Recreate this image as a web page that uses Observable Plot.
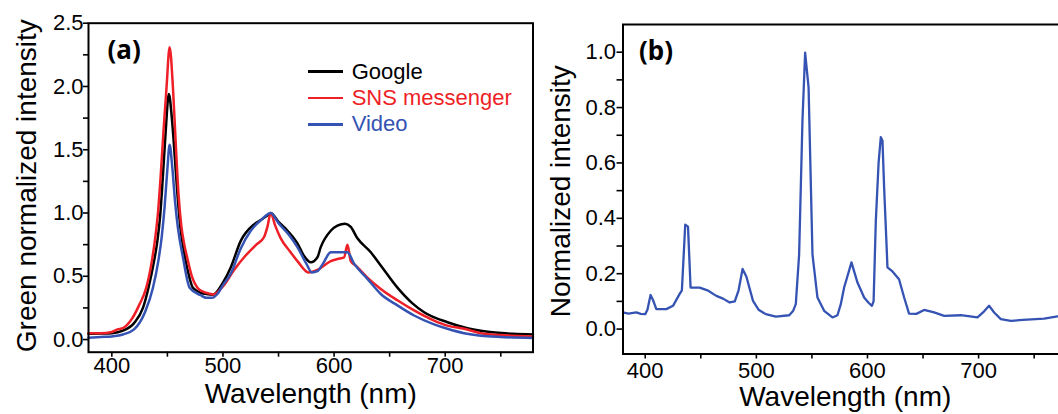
<!DOCTYPE html>
<html>
<head>
<meta charset="utf-8">
<script src="https://cdn.jsdelivr.net/npm/d3@7"></script>
<script src="https://cdn.jsdelivr.net/npm/@observablehq/plot@0.6"></script>
<style>
html, body { margin: 0; padding: 0; overflow: hidden; background: #fff; width: 1058px; height: 414px; }
#wrap { position: relative; width: 1058px; height: 414px; overflow: hidden; font-family: "Liberation Sans", Arial, sans-serif; }
#wrap > svg { position: absolute; top: 0; }
#legend { position: absolute; left: 308px; top: 58.6px; font-size: 22px; line-height: 26.3px; }
#legend .row { display: flex; align-items: center; height: 26.3px; white-space: nowrap; }
#legend .sw { display: inline-block; width: 35px; height: 2.8px; margin-right: 8.7px; }
</style>
</head>
<body>
<div id="wrap"></div>
<script>
// ---------- Panel (a) data ----------
const googleWl = [379, 390, 400, 410, 420, 428, 433, 438, 441, 443.5, 446, 448.5, 451.3, 454, 456.6, 459, 461.5, 464, 467, 473, 480, 485, 491, 500, 507, 516, 528, 535, 540, 543, 550, 556, 567, 573, 579, 585, 588, 597, 603, 610, 615, 621, 633, 642, 657, 670, 681, 702, 720, 732, 745, 761, 779];
const googleVal = [0.045, 0.047, 0.05, 0.07, 0.13, 0.25, 0.41, 0.62, 0.78, 0.98, 1.3, 1.65, 1.94, 1.75, 1.45, 1.15, 0.9, 0.74, 0.6, 0.41, 0.37, 0.36, 0.355, 0.45, 0.57, 0.78, 0.91, 0.95, 0.98, 1.0, 0.93, 0.88, 0.76, 0.66, 0.61, 0.65, 0.73, 0.86, 0.90, 0.915, 0.89, 0.80, 0.69, 0.585, 0.41, 0.29, 0.216, 0.137, 0.09, 0.07, 0.055, 0.045, 0.04];

const snsWl = [379, 390, 400, 405, 410, 417, 425, 431, 436, 439, 441.5, 444, 446.5, 449.2, 452, 455, 457.5, 460, 462.5, 465, 468, 472, 477, 483, 487, 491, 500, 510, 520, 530, 537, 540, 543, 547, 552, 560, 567, 577, 585, 597, 605, 609, 612, 615, 620, 630, 642, 657, 672, 690, 702, 717, 732, 750, 779];
const snsVal = [0.05, 0.05, 0.06, 0.08, 0.09, 0.15, 0.28, 0.41, 0.62, 0.80, 1.0, 1.3, 1.65, 1.99, 2.31, 1.99, 1.55, 1.15, 0.9, 0.76, 0.64, 0.5, 0.41, 0.375, 0.365, 0.356, 0.42, 0.55, 0.66, 0.75, 0.81, 0.89, 1.0, 0.9, 0.80, 0.70, 0.62, 0.53, 0.55, 0.62, 0.64, 0.65, 0.75, 0.62, 0.58, 0.49, 0.40, 0.31, 0.23, 0.15, 0.11, 0.085, 0.05, 0.035, 0.024];

const videoWl = [379, 390, 400, 410, 420, 430, 437, 442, 445, 447.5, 450, 452, 454.5, 457, 459.5, 464, 470, 480, 485, 490, 495, 500, 507, 516, 525, 535, 543, 550, 560, 567, 575, 580, 585, 590, 597, 605, 612, 618, 630, 642, 657, 672, 690, 702, 717, 732, 750, 779];
const videoVal = [0.015, 0.02, 0.025, 0.04, 0.08, 0.22, 0.41, 0.63, 0.82, 1.05, 1.35, 1.54, 1.35, 1.08, 0.88, 0.65, 0.41, 0.35, 0.33, 0.33, 0.36, 0.43, 0.52, 0.72, 0.86, 0.95, 1.0, 0.92, 0.82, 0.73, 0.60, 0.53, 0.54, 0.60, 0.69, 0.69, 0.69, 0.60, 0.48, 0.36, 0.27, 0.19, 0.12, 0.085, 0.05, 0.03, 0.02, 0.013];

const seriesNames = ["Google", "SNS messenger", "Video"];
const seriesColors = ["#000000", "#ee1f26", "#3553b3"];

// ---------- Panel (b) data ----------
const specWl = [380, 385, 392, 396, 400, 402, 404.8, 407, 410, 419, 425, 431, 433, 436, 438.5, 440.8, 449, 456, 464, 470, 476, 480.6, 484, 487.6, 491, 497, 502, 506, 508.5, 517.5, 529.6, 533, 535.5, 538.5, 541.5, 543.9, 547, 550.5, 555, 561, 568.5, 573, 576, 579, 585.6, 591, 597, 601, 604, 605.5, 607.5, 610, 612, 613.5, 615, 618, 622.5, 628.4, 633, 637.4, 644, 651, 660, 669, 684, 699, 704, 709.4, 714, 720, 729, 740, 759, 771, 780];
const specVal = [0.06, 0.056, 0.06, 0.055, 0.054, 0.07, 0.123, 0.105, 0.072, 0.072, 0.084, 0.127, 0.14, 0.377, 0.37, 0.15, 0.15, 0.14, 0.12, 0.11, 0.096, 0.10, 0.14, 0.217, 0.19, 0.102, 0.07, 0.06, 0.054, 0.045, 0.05, 0.065, 0.09, 0.27, 0.753, 0.998, 0.873, 0.27, 0.114, 0.066, 0.042, 0.05, 0.09, 0.15, 0.241, 0.168, 0.114, 0.095, 0.084, 0.1, 0.39, 0.6, 0.693, 0.68, 0.51, 0.223, 0.208, 0.18, 0.114, 0.056, 0.055, 0.069, 0.06, 0.048, 0.05, 0.042, 0.06, 0.084, 0.06, 0.036, 0.03, 0.033, 0.038, 0.046, 0.05];

// ---------- Ticks ----------
const xTicks = [400, 450, 500, 550, 600, 650, 700, 750];
const xTickLabels = [400, 500, 600, 700];
const yTicksA = [0, 0.25, 0.5, 0.75, 1, 1.25, 1.5, 1.75, 2, 2.25, 2.5];
const yTickLabelsA = [0, 0.5, 1, 1.5, 2, 2.5];
const yTicksB = [0, 0.1, 0.2, 0.3, 0.4, 0.5, 0.6, 0.7, 0.8, 0.9, 1.0];
const yTickLabelsB = [0, 0.2, 0.4, 0.6, 0.8, 1.0];

const xTitle = "Wavelength (nm)";
const yTitleA = "Green normalized intensity";
const yTitleB = "Normalized intensity";

const f1 = d3.format(".1f");
const toRows = (wl, val) => wl.map((w, i) => ({wl: w, v: val[i]}));
const seriesData = [toRows(googleWl, googleVal), toRows(snsWl, snsVal), toRows(videoWl, videoVal)];
const specData = toRows(specWl, specVal);

const baseStyle = {fontFamily: "'Liberation Sans', Arial, sans-serif", fontSize: "22px", color: "black", background: "transparent", overflow: "visible"};

const chartA = Plot.plot({
  width: 545, height: 414,
  marginLeft: 88, marginRight: 12.5, marginTop: 22.7, marginBottom: 62.3,
  style: baseStyle,
  x: {domain: [379, 779]},
  y: {domain: [-0.1, 2.5]},
  marks: [
    Plot.axisX({ticks: xTicks, tickFormat: d => xTickLabels.includes(d) ? String(d) : "", tickSize: 5, tickPadding: 0, strokeWidth: 1.6, label: null}),
    Plot.axisY({ticks: yTicksA, tickFormat: d => yTickLabelsA.includes(d) ? f1(d) : "", tickSize: 5, tickPadding: 0, strokeWidth: 1.6, label: null}),
    ...seriesData.map((rows, i) => Plot.line(rows, {x: "wl", y: "v", stroke: seriesColors[i], strokeWidth: 2.5, curve: "monotone-x"})),
    Plot.frame({stroke: "black", strokeWidth: 2}),
    Plot.text([xTitle], {text: d => d, frameAnchor: "bottom", dy: 50.5, lineAnchor: "bottom", fontSize: 28}),
    Plot.text([yTitleA], {text: d => d, frameAnchor: "left", rotate: -90, dx: -53, dy: -2, lineAnchor: "bottom", textAnchor: "middle", fontSize: 28}),
    Plot.text(["(a)"], {text: d => d, frameAnchor: "top-left", dx: 19, dy: 35.5, lineAnchor: "bottom", textAnchor: "start", fontSize: 26, fontWeight: "bold", fontFamily: "'Noto Sans', 'Open Sans', sans-serif"})
  ]
});
chartA.style.left = "0px";

const offB = 535;
const chartB = Plot.plot({
  width: 540, height: 414,
  marginLeft: 87.5, marginRight: 8, marginTop: 24, marginBottom: 60.5,
  style: baseStyle,
  x: {domain: [380, 780]},
  y: {domain: [-0.09, 1.1]},
  marks: [
    Plot.axisX({ticks: xTicks, tickFormat: d => xTickLabels.includes(d) ? String(d) : "", tickSize: 5, tickPadding: 3, strokeWidth: 1.6, label: null}),
    Plot.axisY({ticks: yTicksB, tickFormat: d => yTickLabelsB.includes(d) ? f1(d) : "", tickSize: 6, tickPadding: 1, strokeWidth: 1.6, label: null}),
    Plot.line(specData, {x: "wl", y: "v", stroke: seriesColors[2], strokeWidth: 2.3}),
    Plot.frame({stroke: "black", strokeWidth: 2}),
    Plot.text([xTitle], {text: d => d, frameAnchor: "bottom", dy: 52, lineAnchor: "bottom", fontSize: 28}),
    Plot.text([yTitleB], {text: d => d, frameAnchor: "left", rotate: -90, dx: -53.5, dy: 2, lineAnchor: "bottom", textAnchor: "middle", fontSize: 28}),
    Plot.text(["(b)"], {text: d => d, frameAnchor: "top-left", dx: 16, dy: 35, lineAnchor: "bottom", textAnchor: "start", fontSize: 26, fontWeight: "bold", fontFamily: "'Noto Sans', 'Open Sans', sans-serif"})
  ]
});
chartB.style.left = offB + "px";

const wrap = document.getElementById("wrap");
wrap.appendChild(chartB);
wrap.appendChild(chartA);

// legend
const legend = document.createElement("div");
legend.id = "legend";
seriesNames.forEach((name, i) => {
  const row = document.createElement("div");
  row.className = "row";
  const sw = document.createElement("span");
  sw.className = "sw";
  sw.style.background = seriesColors[i];
  const label = document.createElement("span");
  label.textContent = name;
  label.style.color = seriesColors[i];
  row.appendChild(sw);
  row.appendChild(label);
  legend.appendChild(row);
});
wrap.appendChild(legend);
</script>
</body>
</html>
